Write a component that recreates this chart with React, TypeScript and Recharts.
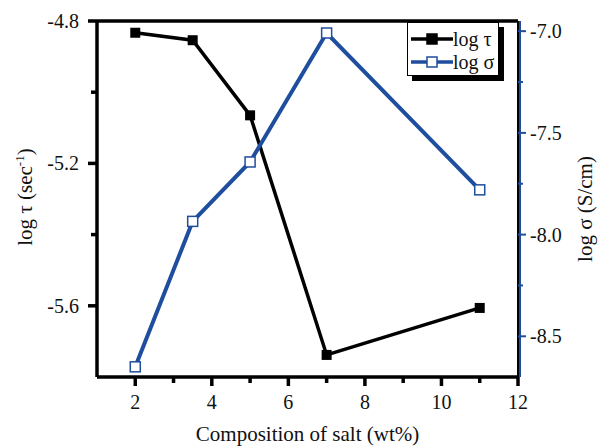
import {
  ComposedChart,
  Line,
  XAxis,
  YAxis,
  Legend,
  ReferenceLine,
} from 'recharts';

const BLUE = '#1f4e9e';
const FONT = "'Liberation Serif', 'DejaVu Serif', serif";

// values
const COMPOSITION = [2, 3.5, 5, 7, 11];
const LOG_TAU = [-4.833, -4.854, -5.065, -5.738, -5.606];
const LOG_SIGMA = [-8.65, -7.935, -7.643, -7.009, -7.78];

const X_TICKS = [2, 3, 4, 5, 6, 7, 8, 9, 10, 11, 12];
const X_LABELED = [2, 4, 6, 8, 10, 12];
const LEFT_TICKS = [-4.8, -5.0, -5.2, -5.4, -5.6];
const LEFT_LABELED = [-4.8, -5.2, -5.6];
const RIGHT_TICKS = [-7.0, -7.25, -7.5, -7.75, -8.0, -8.25, -8.5];
const RIGHT_LABELED = [-7.0, -7.5, -8.0, -8.5];

const data = COMPOSITION.map((x, i) => ({ x, tau: LOG_TAU[i], sigma: LOG_SIGMA[i] }));

const TICK_SIZE = 9;
const TICK_MARGIN = 10;

const XTick = (props: any) => {
  const { x, y, payload } = props;
  const major = X_LABELED.includes(payload.value);
  const ay = y - TICK_SIZE - TICK_MARGIN;
  return (
    <g>
      <line x1={x} x2={x} y1={ay} y2={ay + (major ? 9 : 6)} stroke="#000" strokeWidth={3.5} />
      {major && (
        <text x={x} y={ay + 32} textAnchor="middle" fontSize={20} style={{ fontFamily: FONT }} fill="#111">
          {payload.value}
        </text>
      )}
    </g>
  );
};

const LeftTick = (props: any) => {
  const { x, y, payload } = props;
  const major = LEFT_LABELED.includes(payload.value);
  const ax = x + TICK_SIZE + TICK_MARGIN;
  return (
    <g>
      <line x1={ax} x2={ax - (major ? 9 : 6)} y1={y} y2={y} stroke="#000" strokeWidth={3.5} />
      {major && (
        <text x={ax - 18} y={y + 7} textAnchor="end" fontSize={20} style={{ fontFamily: FONT }} fill="#111">
          {payload.value.toFixed(1)}
        </text>
      )}
    </g>
  );
};

const RightTick = (props: any) => {
  const { x, y, payload } = props;
  const major = RIGHT_LABELED.includes(payload.value);
  const ax = x - TICK_SIZE - TICK_MARGIN;
  return (
    <g>
      <line x1={ax} x2={ax + (major ? 8 : 5)} y1={y} y2={y} stroke={BLUE} strokeWidth={2} />
      {major && (
        <text x={ax + 12} y={y + 7} textAnchor="start" fontSize={20} style={{ fontFamily: FONT }} fill="#111">
          {payload.value.toFixed(1)}
        </text>
      )}
    </g>
  );
};

const LeftTitle = (props: any) => {
  const { viewBox } = props;
  const cx = viewBox.x + 15;
  const cy = viewBox.y + viewBox.height / 2 - 2;
  return (
    <text
      x={cx}
      y={cy}
      transform={`rotate(-90 ${cx} ${cy})`}
      textAnchor="middle"
      fontSize={21}
      style={{ fontFamily: FONT }}
      fill="#111"
    >
      log τ (sec
      <tspan dy={-8} fontSize={13}>-1</tspan>
      <tspan dy={8}>)</tspan>
    </text>
  );
};

const RightTitle = (props: any) => {
  const { viewBox } = props;
  const cx = viewBox.x + viewBox.width - 7;
  const cy = viewBox.y + viewBox.height / 2 + 10;
  return (
    <text
      x={cx}
      y={cy}
      transform={`rotate(-90 ${cx} ${cy})`}
      textAnchor="middle"
      fontSize={21}
      style={{ fontFamily: FONT }}
      fill="#111"
    >
      log σ (S/cm)
    </text>
  );
};

const TauDot = (props: any) => {
  const { cx, cy, index } = props;
  return <rect key={`t${index}`} x={cx - 5} y={cy - 5} width={10} height={10} fill="#000" />;
};

const SigmaDot = (props: any) => {
  const { cx, cy, index } = props;
  return (
    <rect
      key={`s${index}`}
      x={cx - 5}
      y={cy - 5}
      width={10}
      height={10}
      fill="#fff"
      stroke={BLUE}
      strokeWidth={1.5}
    />
  );
};

const LegendBox = () => {
  const rows = [
    { name: 'log τ', color: '#000', fill: '#000' },
    { name: 'log σ', color: BLUE, fill: '#fff' },
  ];
  return (
    <div
      style={{
        width: 92,
        height: 54,
        boxSizing: 'border-box',
        border: '1px solid #000',
        background: '#fff',
        boxShadow: '5px 5px 0 #000',
        paddingTop: 4,
        paddingLeft: 3,
      }}
    >
      {rows.map((r) => (
        <div key={r.name} style={{ display: 'flex', alignItems: 'center', height: 23 }}>
          <svg width={42} height={14}>
            <line x1={0} x2={42} y1={7} y2={7} stroke={r.color} strokeWidth={3.5} />
            <rect x={16} y={2} width={10} height={10} fill={r.fill} stroke={r.color} strokeWidth={1.5} />
          </svg>
          <span style={{ fontFamily: FONT, fontSize: 20, color: '#111', lineHeight: '20px' }}>{r.name}</span>
        </div>
      ))}
    </div>
  );
};

export default function App() {
  return (
    <div style={{ position: 'absolute', left: 0, top: 0, width: 599, height: 447, background: '#fff' }}>
      <ComposedChart width={599} height={447} data={data} margin={{ top: 21, right: 0, bottom: 0, left: 17 }}>
        <XAxis
          dataKey="x"
          type="number"
          domain={[1, 12]}
          ticks={X_TICKS}
          tick={<XTick />}
          tickLine={false}
          tickSize={TICK_SIZE}
          tickMargin={TICK_MARGIN}
          interval={0}
          height={70}
          axisLine={{ stroke: '#000', strokeWidth: 3.5 }}
          label={{
            value: 'Composition of salt (wt%)',
            position: 'insideBottom',
            offset: 6,
            style: { fontFamily: FONT, fontSize: 21, fill: '#111' },
          }}
        />
        <YAxis
          yAxisId="left"
          type="number"
          domain={[-5.8, -4.8]}
          ticks={LEFT_TICKS}
          tick={<LeftTick />}
          tickLine={false}
          tickSize={TICK_SIZE}
          tickMargin={TICK_MARGIN}
          interval={0}
          width={80}
          axisLine={{ stroke: '#000', strokeWidth: 3.5 }}
          label={<LeftTitle />}
        />
        <YAxis
          yAxisId="right"
          orientation="right"
          type="number"
          domain={[-8.7, -6.95]}
          ticks={RIGHT_TICKS}
          tick={<RightTick />}
          tickLine={false}
          tickSize={TICK_SIZE}
          tickMargin={TICK_MARGIN}
          interval={0}
          width={81}
          axisLine={{ stroke: BLUE, strokeWidth: 2, transform: 'translate(2,0)' }}
          label={<RightTitle />}
        />
        <ReferenceLine yAxisId="left" y={-4.8} stroke="#000" strokeWidth={3.5} />
        <ReferenceLine yAxisId="left" x={12} stroke="#000" strokeWidth={2} />
        <Line
          yAxisId="left"
          dataKey="tau"
          name="log τ"
          stroke="#000"
          strokeWidth={3.5}
          dot={TauDot}
          activeDot={false}
          isAnimationActive={false}
        />
        <Line
          yAxisId="right"
          dataKey="sigma"
          name="log σ"
          stroke={BLUE}
          strokeWidth={4}
          dot={SigmaDot}
          activeDot={false}
          isAnimationActive={false}
        />
        <Legend
          layout="vertical"
          align="center"
          verticalAlign="middle"
          content={<LegendBox />}
          wrapperStyle={{ position: 'absolute', left: 407, top: 22, width: 92, height: 54 }}
        />
      </ComposedChart>
    </div>
  );
}
